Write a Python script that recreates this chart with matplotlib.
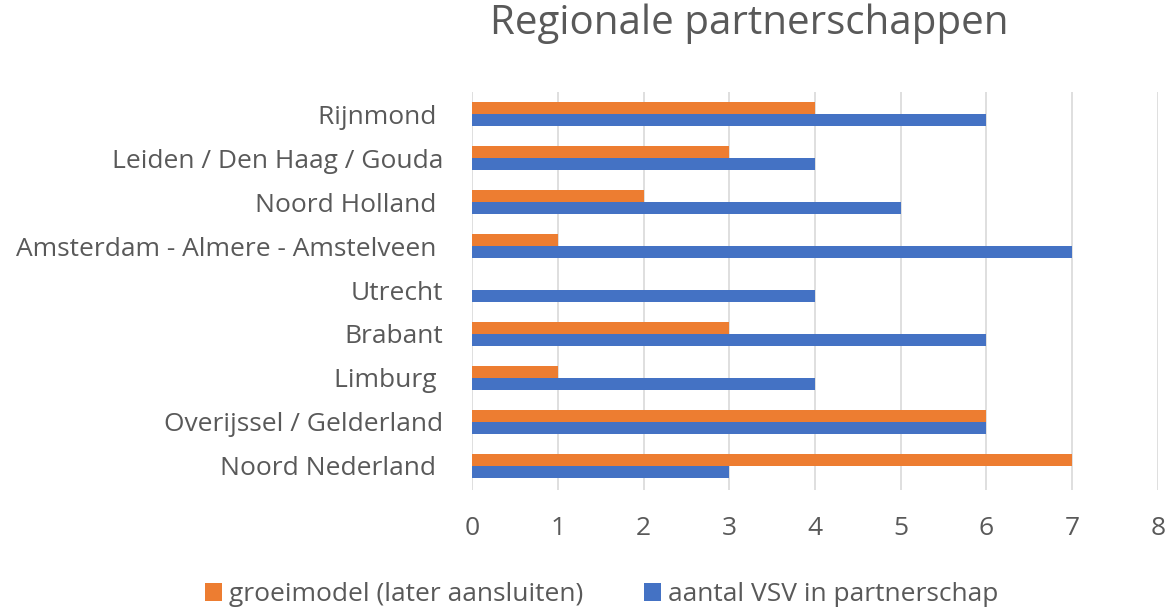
import matplotlib
matplotlib.use("Agg")
import matplotlib.pyplot as plt
import numpy as np

plt.rcParams['font.family'] = ['Open Sans', 'DejaVu Sans']

# categories from bottom to top
regions = ["Noord Nederland ", "Overijssel / Gelderland", "Limburg ", "Brabant",
           "Utrecht", "Amsterdam - Almere - Amstelveen ", "Noord Holland ",
           "Leiden / Den Haag / Gouda", "Rijnmond "]
groeimodel = [7, 6, 1, 3, 0, 1, 2, 3, 4]
aantal_vsv = [3, 6, 4, 6, 4, 7, 5, 4, 6]
series_names = ["groeimodel (later aansluiten)", "aantal VSV in partnerschap"]

orange = "#ED7D31"
blue = "#4472C4"
grey = "#595959"

fig = plt.figure(figsize=(11.66, 6.11), dpi=100)
ax = fig.add_axes([0.405, 0.198, 0.588, 0.651])

y = np.arange(len(regions))
h = 0.27
ax.barh(y + h / 2, groeimodel, height=h, color=orange, label=series_names[0], zorder=3)
ax.barh(y - h / 2, aantal_vsv, height=h, color=blue, label=series_names[1], zorder=3)

ax.set_xlim(0, 8)
ax.set_ylim(-0.55, 8.5)
ax.set_xticks(range(9))
ax.set_yticks(y)
ax.set_yticklabels(regions)
ax.tick_params(axis='both', length=0, labelsize=19, labelcolor=grey)
ax.tick_params(axis='y', pad=21)
ax.tick_params(axis='x', pad=19)
ax.grid(axis='x', color="#d9d9d9", linewidth=1.2, zorder=0)
for s in ax.spines.values():
    s.set_visible(False)

fig.suptitle("Regionale partnerschappen", x=0.643, y=0.995, fontsize=29, color=grey)

fig.legend(loc='center', bbox_to_anchor=(0.516, 0.027), ncol=2, frameon=False,
           fontsize=19, labelcolor=grey, handlelength=0.65, handleheight=0.65,
           handletextpad=0.25, columnspacing=2.3, borderpad=0)

fig.savefig("out.png", dpi=100)
